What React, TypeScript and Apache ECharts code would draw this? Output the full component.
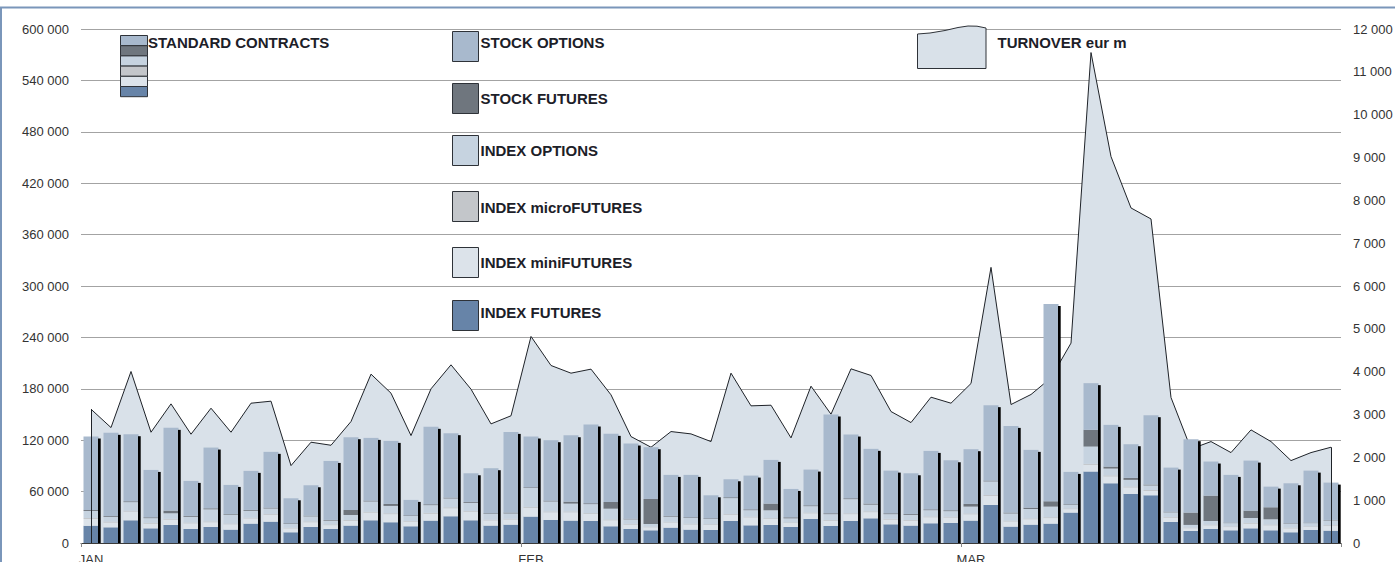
import React, { useEffect, useRef } from "react";
import * as echarts from "echarts";

const monthNames = ["JAN", "FEB", "MAR"];
const tradingDaysPerMonth = [22, 22, 19];

const indexFutures = [20200,18300,26500,17100,21000,16400,18700,15600,22600,24900,12500, 18700,16400,20300,26500,24200,19500,26100,31200,26500,20300, 21400,30800,26900,26100,25700,19500,16400,14800,17900,15600,15200, 25700,20600,21000,18700,28100,19900,25700,28800,21800,20300, 23000,23400,26100,44400,19100,21400,22600,35500,83400,69700,57300, 55700,24500,14000,16400,14800,17100,14800,12500,15200,14400];
const indexMiniFutures = [7800,5500,10100,5400,6200,6500,5500,6200,6000,8000,4500, 5500,4400,5500,8900,9500,5400,8000,9300,10000,6000, 6000,10200,8900,9700,8200,7000,5000,3500,6000,6000,5800, 7200,9200,7000,4600,6500,6000,8000,7200,5400,5600, 7000,6200,7400,10500,6000,6300,6500,4000,7800,8000,7500, 5000,5000,3200,4200,3800,5400,5800,4500,3600,5400];
const indexMicroFutures = [1200,1200,1200,1000,1000,1000,1000,1000,1000,1000,800, 1000,900,1100,1000,1000,900,1100,1200,1000,1000, 1000,1200,1000,1000,1000,1000,1000,800,900,1000,900, 1000,1000,1000,800,1000,1000,1000,1000,1000,1000, 1000,1000,1000,1200,1000,1000,1000,900,1200,1200,1200, 1200,1000,800,900,800,1000,1000,900,800,1000];
const indexOptions = [8200,5600,9900,5500,6500,6700,14100,10300,8000,6400,4400, 5900,4400,5800,12100,8600,5700,9000,10300,9400,6600, 6100,22100,11700,9200,10500,12600,5200,3100,6000,6600,6100, 18500,7500,9200,4700,7400,6800,16500,7800,5500,6000, 7300,6600,8000,15800,8400,11000,12400,4000,20200,8000,7700, 5300,5300,3100,4200,3800,5700,6100,4500,3600,5500];
const stockFutures = [1200,1000,1000,1000,3100,1000,1200,800,1000,1000,800, 800,800,5900,1000,2300,800,1000,1000,1000,800, 1000,800,1000,2300,1000,7800,800,29200,800,800,800, 1000,1000,7800,1200,1000,1000,1000,1200,1000,1000, 1000,1000,3100,1000,1000,1600,6200,800,19500,2300,2300, 1000,800,14400,29600,600,8600,14000,600,600,600];
const stockOptions = [85700,97000,78300,55300,96600,40900,70900,33900,45600,65100,29200, 35500,68900,84900,73200,73600,18000,90400,75200,33500,52600, 94200,59200,70500,77500,91900,79500,87700,60400,47900,49500,26900, 21000,39400,51000,33100,41700,115300,74400,63900,49800,47500, 68200,58400,63900,88000,101200,67400,230300,37800,54500,48700,39300, 81000,51400,85700,39800,55700,58400,24100,46700,60700,43600];
const turnover = [3124,2695,4004,2586,3248,2540,3147,2586,3264,3311,1807, 2353,2282,2836,3942,3498,2508,3599,4160,3591,2781, 2970,4822,4144,3965,4059,3459,2485,2236,2602,2547,2368, 3965,3202,3217,2454,3661,3007,4066,3911,3069,2812, 3404,3264,3724,6435,3233,3467,3856,4667,11450,9021,7822, 7565,3396,2195,2368,2111,2641,2368,1924,2111,2236];

const seriesNames = ["INDEX FUTURES", "INDEX miniFUTURES", "INDEX microFUTURES", "INDEX OPTIONS", "STOCK FUTURES", "STOCK OPTIONS"];
const seriesColors = ["#6784a8", "#dce3ea", "#c3c6ca", "#c6d3e0", "#6f767e", "#a8b9cd"];
const legendTitle = "STANDARD CONTRACTS";
const turnoverName = "TURNOVER eur m";

const FONT = "'Liberation Sans', Arial, sans-serif";

export default function App() {
  const ref = useRef<HTMLDivElement>(null);
  useEffect(() => {
    if (!ref.current) return;
    const chart = echarts.init(ref.current, undefined, { renderer: "svg" });

    const categories: string[] = [];
    const monthStart = new Set<number>();
    tradingDaysPerMonth.forEach((n, m) => {
      monthStart.add(categories.length);
      for (let d = 0; d < n; d++) categories.push(monthNames[m] + " " + (d + 1));
    });
    const stacks = [indexFutures, indexMiniFutures, indexMicroFutures, indexOptions, stockFutures, stockOptions];
    const totals = categories.map((_, i) => stacks.reduce((s, a) => s + a[i], 0));
    const fmt = (v: number) => String(v).replace(/\B(?=(\d{3})+(?!\d))/g, " ");

    const barSeries = stacks.map((arr, k) => ({
      type: "bar",
      name: seriesNames[k],
      stack: "contracts",
      data: arr,
      barWidth: 15,
      itemStyle: { color: seriesColors[k] },
      z: 3,
    }));

    const g: any[] = [];
    g.push({ type: "rect", shape: { x: 1, y: 7.5, width: 1500, height: 700 }, style: { fill: "none", stroke: "#7a96ba", lineWidth: 2 }, silent: true, z: 10 });
    const order = [5, 4, 3, 2, 1, 0];
    order.forEach((k, j) => {
      g.push({ type: "rect", shape: { x: 120.5, y: 35.5 + j * 10.2, width: 27, height: 10.2 }, style: { fill: seriesColors[k], stroke: "#2e3238", lineWidth: 1 }, z: 10 });
    });
    g.push({ type: "text", x: 148, y: 42, style: { text: legendTitle, font: "bold 15px " + FONT, fill: "#1c2028", textVerticalAlign: "middle" }, z: 10 });
    const boxTops = [31, 83, 135, 191, 247, 300];
    const textYs = [42, 98, 150, 207, 262, 312];
    order.forEach((k, j) => {
      g.push({ type: "rect", shape: { x: 452.5, y: boxTops[j] + 0.5, width: 26, height: 30 }, style: { fill: seriesColors[k], stroke: "#2e3238", lineWidth: 1 }, z: 10 });
      g.push({ type: "text", x: 480.5, y: textYs[j], style: { text: seriesNames[k], font: "bold 15px " + FONT, fill: "#1c2028", textVerticalAlign: "middle" }, z: 10 });
    });
    g.push({
      type: "polygon",
      shape: { points: [[917.5, 34], [930, 33], [945, 30.5], [958, 27.5], [968, 26], [977, 26.2], [986, 28], [986, 68.5], [917.5, 68.5]] },
      style: { fill: "#d9e1e9", stroke: "#2e3238", lineWidth: 1 },
      z: 10,
    });
    g.push({ type: "text", x: 997.5, y: 42.5, style: { text: turnoverName, font: "bold 15px " + FONT, fill: "#1c2028", textVerticalAlign: "middle" }, z: 10 });

    chart.setOption({
      animation: false,
      backgroundColor: "#ffffff",
      grid: { left: 81, right: 54, top: 29, bottom: 19, containLabel: false, outerBoundsMode: "none" },
      xAxis: {
        type: "category",
        data: categories,
        boundaryGap: true,
        axisLine: { show: true, lineStyle: { color: "#3a3a3a", width: 1 } },
        axisTick: { show: true, length: 4, interval: (i: number) => monthStart.has(i), lineStyle: { color: "#888" } },
        axisLabel: {
          interval: (i: number) => monthStart.has(i),
          formatter: (v: string) => v.split(" ")[0],
          color: "#333",
          fontFamily: FONT,
          fontSize: 13,
          margin: 10,
        },
        splitLine: { show: false },
      },
      yAxis: [
        {
          type: "value",
          min: 0,
          max: 600000,
          interval: 60000,
          axisLine: { show: false },
          axisTick: { show: false },
          axisLabel: { formatter: fmt, color: "#333", fontFamily: FONT, fontSize: 13, margin: 12 },
          splitLine: { show: true, lineStyle: { color: "#a3a3a3", width: 1 } },
        },
        {
          type: "value",
          min: 0,
          max: 12000,
          interval: 1000,
          position: "right",
          axisLine: { show: false },
          axisTick: { show: false },
          axisLabel: { formatter: fmt, color: "#333", fontFamily: FONT, fontSize: 13, margin: 12 },
          splitLine: { show: false },
        },
      ],
      series: [
        {
          type: "line",
          name: turnoverName,
          yAxisIndex: 1,
          data: turnover,
          symbol: "none",
          lineStyle: { color: "#1e2228", width: 1 },
          areaStyle: { color: "#d9e1e9", opacity: 1 },
          z: 1,
          markLine: {
            silent: true,
            symbol: "none",
            label: { show: false },
            lineStyle: { color: "#1e2228", width: 1, type: "solid" },
            data: [
              [{ coord: [0, 0] }, { coord: [0, turnover[0]] }],
              [{ coord: [categories.length - 1, 0] }, { coord: [categories.length - 1, turnover[turnover.length - 1]] }],
            ],
          },
        },
        ...barSeries,
        {
          type: "custom",
          name: "shadow",
          data: totals.map((t, i) => [i, t]),
          z: 4,
          silent: true,
          renderItem: (params: any, api: any) => {
            const idx = api.value(0);
            const v = api.value(1);
            const top = api.coord([idx, v]);
            const base = api.coord([idx, 0]);
            return {
              type: "rect",
              shape: { x: top[0] + 7, y: top[1] + 2, width: 2.7, height: base[1] - top[1] - 2 },
              style: { fill: "#000000" },
            };
          },
        },
      ],
      graphic: g,
    });
    return () => chart.dispose();
  }, []);
  return (
    <div style={{ position: "fixed", left: 0, top: 0, width: 1395, height: 562, background: "#fff" }}>
      <div ref={ref} style={{ width: 1395, height: 562 }} />
    </div>
  );
}
